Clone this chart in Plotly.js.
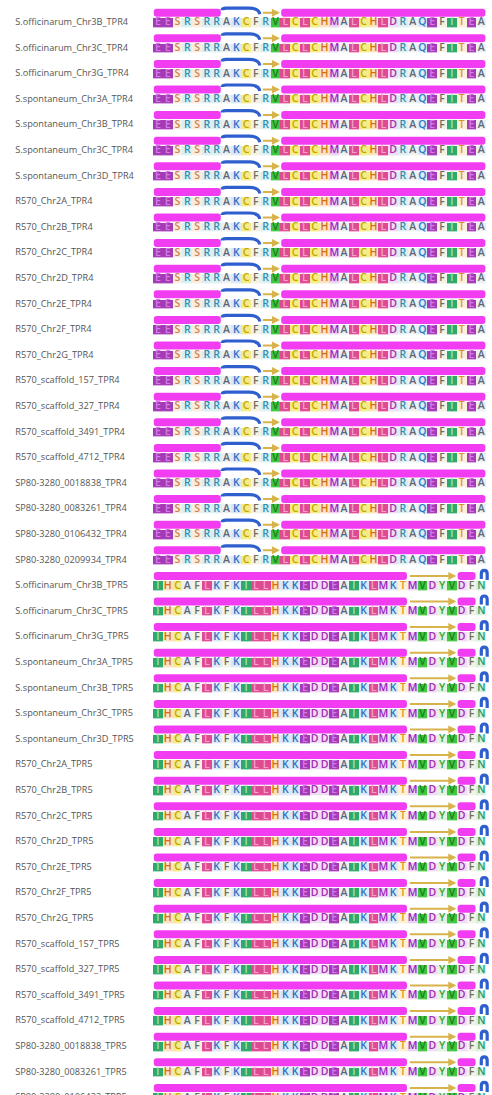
<!DOCTYPE html>
<html><head><meta charset="utf-8">
<script src="https://cdn.plot.ly/plotly-3.0.1.min.js"></script>
<style>html,body{margin:0;padding:0;background:#fff}#chart{width:492px;height:1095px}</style>
</head><body><div id="chart"></div>
<script>
// ---- data ----
const accessions = ["S.officinarum_Chr3B","S.officinarum_Chr3C","S.officinarum_Chr3G",
  "S.spontaneum_Chr3A","S.spontaneum_Chr3B","S.spontaneum_Chr3C","S.spontaneum_Chr3D",
  "R570_Chr2A","R570_Chr2B","R570_Chr2C","R570_Chr2D","R570_Chr2E","R570_Chr2F","R570_Chr2G",
  "R570_scaffold_157","R570_scaffold_327","R570_scaffold_3491","R570_scaffold_4712",
  "SP80-3280_0018838","SP80-3280_0083261","SP80-3280_0106432","SP80-3280_0209934"];
const repeats = ["TPR4","TPR5"];
const sequences = {TPR4:"EESRSRRAKCFRVLCLCHMALCHLDRAQEFITEA", TPR5:"IHCAFLKFKILLHKKEDDEAIKLMKTMVDYVDFN"};
// secondary structure per residue: H helix, C coil, E strand
const secStruct = {TPR4:"HHHHHHHCCCCEEHHHHHHHHHHHHHHHHHHHHH", TPR5:"HHHHHHHHHHHHHHHHHHHHHHHHHHEEEEEHHC"};

// ---- styles ----
const resBg = {E:'#a33ab6',D:'#f0dcf3',M:'#e9d2f1',L:'#de4b93',I:'#2fa96b',V:'#3fc53f',C:'#f5ec86',
  H:'#fbe2bf',S:'#fbece0',T:'#fcf0d6',R:'#dbeff3',K:'#dbe8f7',Q:'#dcebf7',N:'#d7f1e1',A:'#edeff2',
  F:'#f2f2e6',Y:'#e1f3da'};
const resFg = {E:'#d77ae6',D:'#a12db0',M:'#9d22bd',L:'#f6a2c9',I:'#9fe6bd',V:'#1b7d1b',C:'#c2a600',
  H:'#d4700c',S:'#c98556',T:'#df922a',R:'#2f8db0',K:'#2f6fc0',Q:'#2f79c0',N:'#1f9a60',A:'#5a6878',
  F:'#6f6f60',Y:'#3aa03a'};
const helixColor = '#f23cf2', coilColor = '#2f5fcf', strandColor = '#d8b24a';
const PX = 25.6;           // pixels per row unit (y)
const RES_H = 9;           // residue cell height px

const alphabet = Object.keys(resBg);
const rows = [];
repeats.forEach(rep => accessions.forEach(acc => rows.push({label: acc + '_' + rep, seq: sequences[rep], ss: secStruct[rep]})));
const nCol = sequences.TPR4.length;

// heatmap matrix
const z = rows.map(r => r.seq.split('').map(c => alphabet.indexOf(c)));
const n = alphabet.length;
const colorscale = [];
alphabet.forEach((a, i) => { colorscale.push([i / n, resBg[a]]); colorscale.push([(i + 1) / n, resBg[a]]); });

const cols = Array.from({length: nCol}, (_, i) => i);
const rowIdx = rows.map((_, i) => i);

const traces = [];
traces.push({type:'heatmap', x: cols, y: rowIdx, z: z, zmin: -0.5, zmax: n - 0.5,
  colorscale: colorscale, showscale: false, xgap: 0, ygap: PX - RES_H, hoverinfo: 'skip'});

// residue letters
const tx = [], ty = [], tt = [], tc = [];
rows.forEach((r, ri) => r.seq.split('').forEach((c, ci) => { tx.push(ci); ty.push(ri); tt.push(c); tc.push(resFg[c]); }));
traces.push({type:'scatter', mode:'text', x: tx, y: ty, text: tt, textposition: 'middle center',
  textfont: {family: 'Open Sans', size: 10.5, color: tc, weight: 600}, hoverinfo: 'skip', cliponaxis: true});

// row labels
traces.push({type:'scatter', mode:'text', x: rows.map(() => -14.55), y: rowIdx, text: rows.map(r => r.label),
  textposition: 'middle right', textfont: {family: 'Open Sans', size: 9.2, color: '#555555'},
  hoverinfo: 'skip', cliponaxis: true});

// secondary structure
function runs(ss) {
  const out = []; let s = 0;
  for (let i = 1; i <= ss.length; i++) {
    if (i === ss.length || ss[i] !== ss[s]) { out.push({t: ss[s], a: s, b: i - 1}); s = i; }
  }
  return out;
}
const shapes = [], annotations = [];
const dy = px => px / PX;
rows.forEach((r, ri) => {
  runs(r.ss).forEach(seg => {
    const x0 = seg.a - 0.5, x1 = seg.b + 0.5;
    if (seg.t === 'H') {
      const yt = ri + dy(-14), yb = ri + dy(-6);
      const x0i = x0 + 0.08, x1i = x1 - 0.08;
      const rx = 0.3, ry = dy(3);
      shapes.push({type:'path', xref:'x', yref:'y', fillcolor: helixColor, line:{width:0},
        path: `M ${x0i+rx},${yt} L ${x1i-rx},${yt} Q ${x1i},${yt} ${x1i},${yt+ry} L ${x1i},${yb-ry} Q ${x1i},${yb} ${x1i-rx},${yb} L ${x0i+rx},${yb} Q ${x0i},${yb} ${x0i},${yb-ry} L ${x0i},${yt+ry} Q ${x0i},${yt} ${x0i+rx},${yt} Z`});
    } else if (seg.t === 'E') {
      const y = ri + dy(-10);
      annotations.push({xref:'x', yref:'y', axref:'x', ayref:'y', x: x1 - 0.05, y: y, ax: x0 + 0.05, ay: y,
        text:'', showarrow: true, arrowhead: 2, arrowsize: 0.8, arrowwidth: 2, arrowcolor: strandColor, standoff: 0, startstandoff: 0});
    } else if (seg.t === 'C') {
      if (seg.b === nCol - 1) {
        const xl = x0 + 0.5, xr = x1 + 0.1, yt = ri + dy(-15.5);
        shapes.push({type:'path', xref:'x', yref:'y', line:{color: coilColor, width: 3.2},
          path: `M ${xl},${ri+dy(-7)} L ${xl},${ri+dy(-12)} Q ${xl},${yt} ${(xl+xr)/2},${yt} Q ${xr},${yt} ${xr},${ri+dy(-12)} L ${xr},${ri+dy(-6)}`});
      } else {
        const yT = ri + dy(-14.5), yE = ri + dy(-8.5);
        shapes.push({type:'path', xref:'x', yref:'y', line:{color: coilColor, width: 3.2},
          path: `M ${x0+0.05},${ri+dy(-12.5)} Q ${x0+0.05},${yT} ${x0+0.45},${yT} L ${x1-1.2},${yT} Q ${x1-0.2},${yT} ${x1-0.1},${yE}`});
      }
    }
  });
});

const layout = {
  width: 492, height: 1095, margin: {l:0, r:0, t:0, b:0},
  paper_bgcolor: '#ffffff', plot_bgcolor: '#ffffff', showlegend: false,
  xaxis: {range: [-16.112, 34.092], showgrid: false, zeroline: false, showticklabels: false, ticks: '', fixedrange: true},
  yaxis: {range: [(1095 - 22.7) / PX, -22.7 / PX], showgrid: false, zeroline: false, showticklabels: false, ticks: '', fixedrange: true},
  shapes: shapes, annotations: annotations
};
Plotly.newPlot('chart', traces, layout, {displayModeBar: false, staticPlot: true});
</script></body></html>
